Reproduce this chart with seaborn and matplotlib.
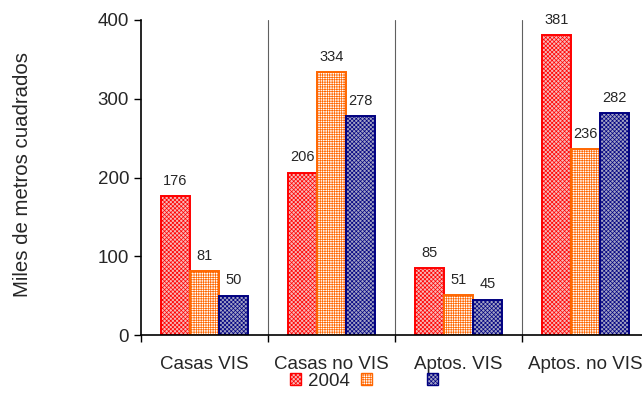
import seaborn as sns
import matplotlib.pyplot as plt
import pandas as pd
import numpy as np

categorias = ["Casas VIS", "Casas no VIS", "Aptos. VIS", "Aptos. no VIS"]
series = ["2004", " " * 7, "  "]
valores_2004 = [176, 206, 85, 381]
valores_serie2 = [81, 334, 51, 236]
valores_serie3 = [50, 278, 45, 282]

df = pd.DataFrame({
    "categoria": categorias * 3,
    "serie": [series[0]] * 4 + [series[1]] * 4 + [series[2]] * 4,
    "valor": valores_2004 + valores_serie2 + valores_serie3,
})

sns.set_theme(style="white")
plt.rcParams['font.family'] = ['Liberation Sans', 'DejaVu Sans']
plt.rcParams['hatch.linewidth'] = 0.5

fig = plt.figure(figsize=(6.42, 4.17), dpi=100)
ax = fig.add_axes([141 / 642, 1 - 335 / 417, 508 / 642, 315 / 417])

caras = ["#f7b8b8", "#ffffff", "#a2a2c4"]
bordes = ["#ff0000", "#ff6600", "#000080"]
tramas = ["xxxxxxxx", "+++++++", "xxxxxxxx"]

sns.barplot(data=df, x="categoria", y="valor", hue="serie", order=categorias,
            hue_order=series, width=0.69, ax=ax, legend=True, saturation=1)

for i, cont in enumerate(ax.containers):
    for barra in cont:
        barra.set_facecolor(caras[i])
        barra.set_edgecolor(bordes[i])
        barra.set_hatch(tramas[i])
        barra.set_linewidth(1.4)
    ax.bar_label(cont, fmt="%d", padding=6, fontsize=10.5)

ax.set_ylim(0, 400)
ax.set_xlim(-0.5, 3.5)
ax.set_yticks([0, 100, 200, 300, 400])
ax.set_xlabel("")
ax.set_ylabel("Miles de metros cuadrados", fontsize=14.7)
ax.yaxis.set_label_coords(-0.214, 0.51)

for x in [0.5, 1.5, 2.5]:
    ax.axvline(x, color="#606060", linewidth=0.8, zorder=0)

ax.set_xticks([-0.5, 0.5, 1.5, 2.5], minor=True)
ax.tick_params(axis="x", which="major", length=0, pad=15, labelsize=13.5)
ax.tick_params(axis="x", which="minor", length=5, width=1, direction="out", bottom=True, color="black")
ax.tick_params(axis="y", which="major", length=5, width=1, direction="out", left=True, labelsize=13.5, color="black")

for lado in ["top", "right"]:
    ax.spines[lado].set_visible(False)
for lado in ["left", "bottom"]:
    ax.spines[lado].set_color("black")
    ax.spines[lado].set_linewidth(1.2)

handles, labels = ax.get_legend_handles_labels()
ax.get_legend().remove()
for i, h in enumerate(handles):
    h.set_facecolor(caras[i])
    h.set_edgecolor(bordes[i])
    h.set_hatch(tramas[i])
fig.legend(handles, labels, loc="center", ncol=3, frameon=False,
           bbox_to_anchor=(373 / 642, 1 - 381 / 417), fontsize=13.5,
           handlelength=0.55, handleheight=0.6, handletextpad=0.4, columnspacing=0.6)

fig.savefig("out.png", dpi=100)
